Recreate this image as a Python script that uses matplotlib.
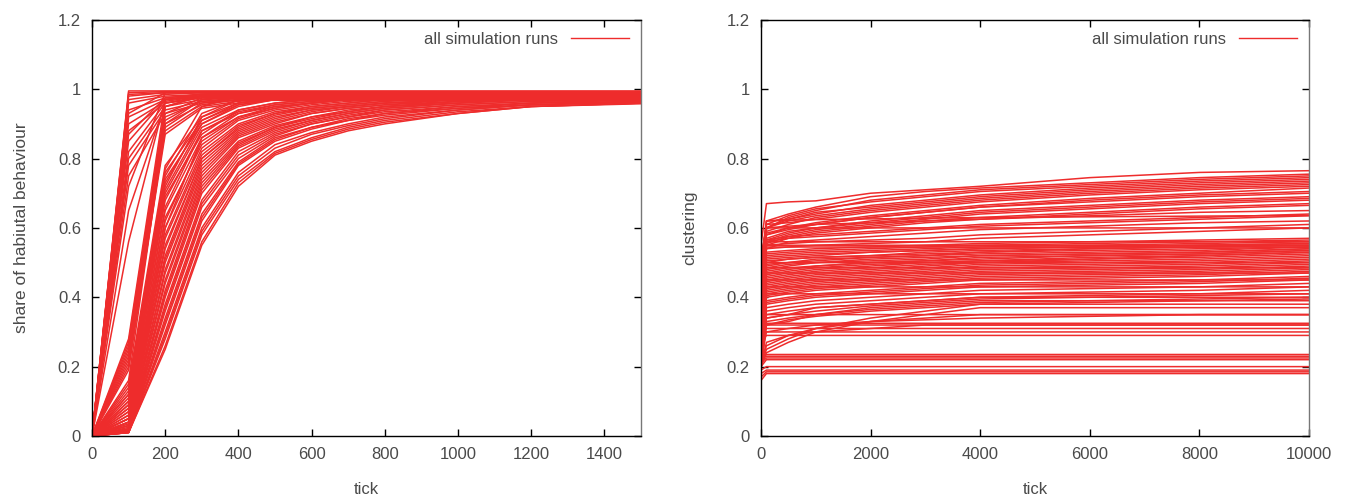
import matplotlib
matplotlib.use('Agg')
import matplotlib.pyplot as plt
from matplotlib.lines import Line2D

plt.rcParams['font.family'] = ['Liberation Sans', 'DejaVu Sans']

red = '#ee2c2c'
grey = '#4a4a4a'

# left panel: share of habitual behaviour, sampled ticks
ticks_left = [0, 100, 200, 300, 400, 500, 600, 700, 800, 1000, 1200, 1500]
runs_left = [
    # fast runs
    [0, 0.995, 0.995, 0.995, 0.995, 0.995, 0.995, 0.995, 0.995, 0.995, 0.995, 0.995],
    [0, 0.99, 0.993, 0.993, 0.993, 0.993, 0.993, 0.993, 0.993, 0.993, 0.993, 0.993],
    [0, 0.985, 0.99, 0.99, 0.99, 0.99, 0.99, 0.99, 0.99, 0.99, 0.99, 0.99],
    [0, 0.98, 0.99, 0.992, 0.992, 0.992, 0.992, 0.992, 0.992, 0.992, 0.992, 0.992],
    [0, 0.97, 0.985, 0.99, 0.99, 0.99, 0.99, 0.99, 0.99, 0.99, 0.99, 0.99],
    [0, 0.96, 0.98, 0.985, 0.987, 0.987, 0.987, 0.987, 0.987, 0.987, 0.987, 0.987],
    [0, 0.94, 0.975, 0.985, 0.985, 0.985, 0.985, 0.985, 0.985, 0.985, 0.985, 0.985],
    [0, 0.93, 0.99, 0.99, 0.99, 0.99, 0.99, 0.99, 0.99, 0.99, 0.99, 0.99],
    [0, 0.92, 0.97, 0.98, 0.982, 0.982, 0.982, 0.982, 0.982, 0.982, 0.982, 0.982],
    [0, 0.90, 0.965, 0.98, 0.98, 0.98, 0.98, 0.98, 0.98, 0.98, 0.98, 0.98],
    [0, 0.88, 0.96, 0.975, 0.978, 0.978, 0.978, 0.978, 0.978, 0.978, 0.978, 0.978],
    [0, 0.87, 0.975, 0.985, 0.988, 0.988, 0.988, 0.988, 0.988, 0.988, 0.988, 0.988],
    [0, 0.85, 0.97, 0.98, 0.985, 0.985, 0.985, 0.985, 0.985, 0.985, 0.985, 0.985],
    [0, 0.82, 0.96, 0.975, 0.975, 0.975, 0.975, 0.975, 0.975, 0.975, 0.975, 0.975],
    [0, 0.80, 0.95, 0.97, 0.975, 0.975, 0.975, 0.975, 0.975, 0.975, 0.975, 0.975],
    [0, 0.78, 0.94, 0.965, 0.97, 0.97, 0.97, 0.97, 0.97, 0.97, 0.97, 0.97],
    [0, 0.75, 0.93, 0.96, 0.968, 0.968, 0.968, 0.968, 0.968, 0.968, 0.968, 0.968],
    [0, 0.72, 0.99, 0.99, 0.99, 0.99, 0.99, 0.99, 0.99, 0.99, 0.99, 0.99],
    [0, 0.65, 0.96, 0.98, 0.985, 0.985, 0.985, 0.985, 0.985, 0.985, 0.985, 0.985],
    [0, 0.56, 0.97, 0.98, 0.983, 0.983, 0.983, 0.983, 0.983, 0.983, 0.983, 0.983],
    # medium runs
    [0, 0.28, 0.97, 0.985, 0.99, 0.99, 0.99, 0.99, 0.99, 0.99, 0.99, 0.99],
    [0, 0.27, 0.95, 0.98, 0.985, 0.985, 0.985, 0.985, 0.985, 0.985, 0.985, 0.985],
    [0, 0.26, 0.93, 0.975, 0.98, 0.98, 0.98, 0.98, 0.98, 0.98, 0.98, 0.98],
    [0, 0.25, 0.91, 0.97, 0.978, 0.978, 0.978, 0.978, 0.978, 0.978, 0.978, 0.978],
    [0, 0.24, 0.90, 0.955, 0.97, 0.975, 0.975, 0.975, 0.975, 0.975, 0.975, 0.975],
    [0, 0.23, 0.88, 0.95, 0.965, 0.972, 0.972, 0.972, 0.972, 0.972, 0.972, 0.972],
    [0, 0.22, 0.95, 0.98, 0.985, 0.985, 0.985, 0.985, 0.985, 0.985, 0.985, 0.985],
    [0, 0.21, 0.87, 0.945, 0.96, 0.97, 0.97, 0.97, 0.97, 0.97, 0.97, 0.97],
    [0, 0.20, 0.92, 0.965, 0.975, 0.98, 0.98, 0.98, 0.98, 0.98, 0.98, 0.98],
    [0, 0.19, 0.89, 0.96, 0.975, 0.98, 0.98, 0.98, 0.98, 0.98, 0.98, 0.98],
    # slow runs
    [0, 0.16, 0.90, 0.97, 0.985, 0.99, 0.99, 0.99, 0.99, 0.99, 0.99, 0.99],
    [0, 0.15, 0.78, 0.92, 0.96, 0.975, 0.98, 0.985, 0.985, 0.99, 0.99, 0.99],
    [0, 0.14, 0.76, 0.91, 0.955, 0.97, 0.98, 0.98, 0.985, 0.99, 0.99, 0.99],
    [0, 0.13, 0.75, 0.93, 0.97, 0.98, 0.985, 0.985, 0.99, 0.99, 0.99, 0.99],
    [0, 0.12, 0.74, 0.90, 0.95, 0.97, 0.975, 0.98, 0.985, 0.985, 0.99, 0.99],
    [0, 0.12, 0.72, 0.92, 0.97, 0.98, 0.985, 0.985, 0.985, 0.985, 0.985, 0.985],
    [0, 0.11, 0.73, 0.91, 0.96, 0.975, 0.98, 0.985, 0.985, 0.99, 0.99, 0.99],
    [0, 0.10, 0.77, 0.95, 0.98, 0.985, 0.985, 0.985, 0.985, 0.985, 0.985, 0.985],
    [0, 0.10, 0.70, 0.89, 0.94, 0.96, 0.97, 0.975, 0.98, 0.985, 0.985, 0.99],
    [0, 0.09, 0.71, 0.90, 0.955, 0.97, 0.975, 0.98, 0.985, 0.985, 0.99, 0.99],
    [0, 0.09, 0.68, 0.88, 0.935, 0.955, 0.965, 0.975, 0.98, 0.985, 0.985, 0.985],
    [0, 0.08, 0.69, 0.87, 0.94, 0.96, 0.97, 0.975, 0.98, 0.985, 0.985, 0.985],
    [0, 0.08, 0.65, 0.86, 0.93, 0.95, 0.96, 0.97, 0.975, 0.98, 0.985, 0.985],
    [0, 0.07, 0.66, 0.88, 0.93, 0.955, 0.965, 0.97, 0.975, 0.98, 0.985, 0.985],
    [0, 0.07, 0.62, 0.85, 0.92, 0.945, 0.96, 0.97, 0.975, 0.98, 0.985, 0.985],
    [0, 0.06, 0.63, 0.84, 0.915, 0.945, 0.96, 0.97, 0.975, 0.98, 0.985, 0.985],
    [0, 0.06, 0.60, 0.83, 0.91, 0.94, 0.955, 0.965, 0.97, 0.98, 0.98, 0.985],
    [0, 0.05, 0.60, 0.86, 0.92, 0.95, 0.96, 0.97, 0.975, 0.98, 0.985, 0.985],
    [0, 0.05, 0.58, 0.82, 0.90, 0.935, 0.95, 0.96, 0.97, 0.975, 0.98, 0.985],
    [0, 0.05, 0.57, 0.81, 0.895, 0.93, 0.95, 0.96, 0.97, 0.975, 0.98, 0.985],
    [0, 0.05, 0.55, 0.80, 0.89, 0.93, 0.945, 0.955, 0.965, 0.975, 0.98, 0.98],
    [0, 0.04, 0.54, 0.80, 0.885, 0.925, 0.945, 0.955, 0.965, 0.975, 0.98, 0.98],
    [0, 0.04, 0.52, 0.79, 0.88, 0.92, 0.94, 0.95, 0.96, 0.97, 0.98, 0.98],
    [0, 0.035, 0.51, 0.78, 0.875, 0.915, 0.94, 0.95, 0.96, 0.97, 0.975, 0.98],
    [0, 0.04, 0.50, 0.77, 0.87, 0.91, 0.935, 0.95, 0.96, 0.97, 0.975, 0.98],
    [0, 0.03, 0.48, 0.76, 0.865, 0.905, 0.93, 0.945, 0.955, 0.97, 0.975, 0.98],
    [0, 0.03, 0.47, 0.75, 0.86, 0.90, 0.93, 0.945, 0.955, 0.965, 0.975, 0.98],
    [0, 0.03, 0.45, 0.74, 0.85, 0.895, 0.92, 0.94, 0.95, 0.965, 0.97, 0.975],
    [0, 0.025, 0.44, 0.73, 0.845, 0.89, 0.92, 0.935, 0.95, 0.965, 0.97, 0.975],
    [0, 0.02, 0.42, 0.72, 0.84, 0.89, 0.915, 0.935, 0.95, 0.96, 0.97, 0.975],
    [0, 0.02, 0.41, 0.71, 0.835, 0.885, 0.91, 0.93, 0.945, 0.96, 0.97, 0.975],
    [0, 0.02, 0.40, 0.70, 0.83, 0.88, 0.91, 0.93, 0.945, 0.96, 0.97, 0.975],
    [0, 0.02, 0.38, 0.68, 0.82, 0.875, 0.905, 0.925, 0.94, 0.955, 0.965, 0.97],
    [0, 0.02, 0.37, 0.67, 0.81, 0.87, 0.90, 0.92, 0.94, 0.955, 0.965, 0.97],
    [0, 0.015, 0.36, 0.66, 0.80, 0.865, 0.90, 0.92, 0.935, 0.95, 0.96, 0.97],
    [0, 0.015, 0.34, 0.64, 0.79, 0.86, 0.89, 0.915, 0.93, 0.95, 0.96, 0.97],
    [0, 0.015, 0.33, 0.63, 0.785, 0.855, 0.89, 0.91, 0.93, 0.945, 0.96, 0.965],
    [0, 0.01, 0.32, 0.62, 0.78, 0.85, 0.885, 0.91, 0.925, 0.945, 0.955, 0.965],
    [0, 0.01, 0.30, 0.60, 0.76, 0.84, 0.875, 0.90, 0.92, 0.94, 0.955, 0.965],
    [0, 0.01, 0.29, 0.59, 0.75, 0.83, 0.87, 0.895, 0.915, 0.94, 0.955, 0.962],
    [0, 0.01, 0.28, 0.58, 0.74, 0.82, 0.86, 0.89, 0.91, 0.935, 0.95, 0.96],
    [0, 0.01, 0.26, 0.56, 0.73, 0.815, 0.855, 0.885, 0.905, 0.93, 0.95, 0.96],
    [0, 0.01, 0.25, 0.55, 0.72, 0.81, 0.85, 0.88, 0.90, 0.93, 0.95, 0.958],
]

# right panel: clustering, sampled ticks
ticks_right = [0, 100, 500, 1000, 2000, 3000, 4000, 6000, 8000, 10000]
runs_right = [
    # upper band
    [0.55, 0.67, 0.675, 0.678, 0.70, 0.71, 0.72, 0.745, 0.76, 0.765],
    [0.50, 0.62, 0.64, 0.66, 0.69, 0.705, 0.715, 0.73, 0.745, 0.755],
    [0.52, 0.60, 0.63, 0.65, 0.68, 0.695, 0.71, 0.725, 0.74, 0.75],
    [0.49, 0.61, 0.635, 0.655, 0.675, 0.69, 0.705, 0.72, 0.735, 0.745],
    [0.48, 0.62, 0.625, 0.64, 0.665, 0.68, 0.695, 0.715, 0.73, 0.74],
    [0.47, 0.60, 0.625, 0.645, 0.66, 0.675, 0.69, 0.71, 0.725, 0.735],
    [0.45, 0.60, 0.62, 0.635, 0.655, 0.67, 0.685, 0.705, 0.72, 0.73],
    [0.46, 0.59, 0.61, 0.63, 0.65, 0.665, 0.68, 0.70, 0.715, 0.725],
    [0.50, 0.61, 0.615, 0.625, 0.645, 0.66, 0.675, 0.695, 0.71, 0.72],
    [0.46, 0.58, 0.60, 0.615, 0.635, 0.65, 0.665, 0.685, 0.70, 0.715],
    [0.45, 0.585, 0.60, 0.61, 0.63, 0.645, 0.66, 0.675, 0.69, 0.70],
    [0.44, 0.58, 0.595, 0.61, 0.63, 0.645, 0.66, 0.68, 0.695, 0.705],
    [0.42, 0.57, 0.59, 0.60, 0.62, 0.635, 0.65, 0.665, 0.68, 0.69],
    [0.43, 0.565, 0.585, 0.60, 0.615, 0.63, 0.645, 0.66, 0.675, 0.685],
    [0.43, 0.56, 0.58, 0.595, 0.61, 0.625, 0.64, 0.655, 0.67, 0.68],
    [0.41, 0.555, 0.575, 0.59, 0.605, 0.62, 0.63, 0.645, 0.66, 0.67],
    [0.40, 0.55, 0.57, 0.585, 0.60, 0.615, 0.625, 0.64, 0.655, 0.665],
    [0.41, 0.60, 0.605, 0.61, 0.615, 0.62, 0.625, 0.635, 0.645, 0.65],
    [0.40, 0.565, 0.575, 0.58, 0.59, 0.60, 0.61, 0.62, 0.63, 0.64],
    [0.39, 0.56, 0.57, 0.575, 0.585, 0.595, 0.605, 0.615, 0.625, 0.635],
    [0.38, 0.54, 0.56, 0.565, 0.575, 0.585, 0.595, 0.605, 0.615, 0.62],
    [0.37, 0.55, 0.555, 0.56, 0.565, 0.57, 0.58, 0.59, 0.60, 0.61],
    [0.36, 0.54, 0.545, 0.55, 0.555, 0.56, 0.57, 0.58, 0.59, 0.60],
    [0.42, 0.62, 0.622, 0.624, 0.626, 0.628, 0.63, 0.632, 0.634, 0.636],
    [0.40, 0.60, 0.60, 0.60, 0.60, 0.60, 0.60, 0.60, 0.60, 0.60],
    # main band
    [0.35, 0.53, 0.535, 0.54, 0.545, 0.55, 0.555, 0.56, 0.565, 0.57],
    [0.35, 0.525, 0.53, 0.535, 0.54, 0.545, 0.55, 0.555, 0.56, 0.565],
    [0.34, 0.52, 0.525, 0.53, 0.535, 0.54, 0.545, 0.55, 0.555, 0.56],
    [0.34, 0.515, 0.52, 0.525, 0.53, 0.535, 0.54, 0.545, 0.55, 0.555],
    [0.33, 0.51, 0.515, 0.52, 0.53, 0.535, 0.54, 0.545, 0.55, 0.555],
    [0.33, 0.505, 0.51, 0.515, 0.52, 0.53, 0.535, 0.54, 0.545, 0.55],
    [0.32, 0.50, 0.51, 0.515, 0.52, 0.525, 0.53, 0.54, 0.545, 0.55],
    [0.31, 0.495, 0.50, 0.51, 0.515, 0.52, 0.53, 0.535, 0.54, 0.545],
    [0.30, 0.49, 0.50, 0.505, 0.515, 0.52, 0.525, 0.53, 0.535, 0.545],
    [0.30, 0.485, 0.495, 0.50, 0.51, 0.515, 0.52, 0.525, 0.53, 0.54],
    [0.30, 0.48, 0.49, 0.50, 0.505, 0.51, 0.52, 0.525, 0.53, 0.54],
    [0.29, 0.475, 0.485, 0.49, 0.50, 0.505, 0.515, 0.52, 0.525, 0.535],
    [0.29, 0.47, 0.48, 0.49, 0.50, 0.505, 0.51, 0.52, 0.525, 0.535],
    [0.28, 0.465, 0.475, 0.485, 0.495, 0.50, 0.505, 0.515, 0.52, 0.53],
    [0.28, 0.46, 0.47, 0.48, 0.49, 0.50, 0.505, 0.51, 0.52, 0.53],
    [0.27, 0.455, 0.465, 0.475, 0.485, 0.495, 0.50, 0.51, 0.515, 0.525],
    [0.27, 0.45, 0.46, 0.47, 0.48, 0.49, 0.50, 0.505, 0.51, 0.52],
    [0.26, 0.445, 0.455, 0.465, 0.475, 0.485, 0.495, 0.50, 0.505, 0.515],
    [0.26, 0.44, 0.45, 0.46, 0.47, 0.48, 0.49, 0.495, 0.50, 0.51],
    [0.25, 0.435, 0.445, 0.455, 0.465, 0.475, 0.485, 0.49, 0.495, 0.505],
    [0.25, 0.43, 0.44, 0.45, 0.46, 0.47, 0.48, 0.485, 0.49, 0.50],
    [0.25, 0.425, 0.435, 0.445, 0.455, 0.465, 0.475, 0.48, 0.485, 0.495],
    [0.25, 0.42, 0.43, 0.44, 0.45, 0.46, 0.47, 0.475, 0.48, 0.49],
    [0.24, 0.415, 0.425, 0.435, 0.445, 0.455, 0.465, 0.47, 0.475, 0.485],
    [0.24, 0.41, 0.42, 0.43, 0.44, 0.45, 0.46, 0.465, 0.47, 0.48],
    [0.24, 0.405, 0.415, 0.425, 0.435, 0.445, 0.455, 0.46, 0.465, 0.475],
    [0.24, 0.40, 0.41, 0.42, 0.43, 0.44, 0.45, 0.455, 0.46, 0.47],
    [0.23, 0.39, 0.40, 0.41, 0.42, 0.43, 0.44, 0.445, 0.45, 0.46],
    [0.23, 0.385, 0.395, 0.405, 0.415, 0.425, 0.435, 0.44, 0.445, 0.455],
    [0.22, 0.38, 0.39, 0.40, 0.41, 0.42, 0.43, 0.435, 0.44, 0.45],
    [0.22, 0.37, 0.38, 0.39, 0.40, 0.41, 0.42, 0.425, 0.43, 0.44],
    [0.21, 0.36, 0.37, 0.38, 0.39, 0.40, 0.41, 0.415, 0.42, 0.43],
    [0.20, 0.35, 0.36, 0.37, 0.38, 0.39, 0.40, 0.405, 0.41, 0.42],
    [0.20, 0.34, 0.35, 0.36, 0.375, 0.385, 0.395, 0.40, 0.405, 0.41],
    [0.19, 0.33, 0.34, 0.35, 0.365, 0.375, 0.385, 0.39, 0.395, 0.40],
    [0.19, 0.32, 0.335, 0.345, 0.36, 0.37, 0.38, 0.385, 0.39, 0.395],
    [0.30, 0.55, 0.55, 0.55, 0.55, 0.55, 0.55, 0.55, 0.55, 0.55],
    [0.30, 0.545, 0.545, 0.545, 0.545, 0.545, 0.545, 0.545, 0.545, 0.545],
    [0.30, 0.56, 0.56, 0.56, 0.56, 0.56, 0.56, 0.56, 0.56, 0.56],
    [0.30, 0.50, 0.50, 0.50, 0.50, 0.50, 0.50, 0.50, 0.50, 0.50],
    [0.29, 0.485, 0.485, 0.485, 0.485, 0.485, 0.485, 0.485, 0.485, 0.485],
    [0.28, 0.47, 0.47, 0.47, 0.47, 0.47, 0.47, 0.47, 0.47, 0.47],
    [0.26, 0.45, 0.45, 0.45, 0.45, 0.45, 0.45, 0.45, 0.45, 0.45],
    [0.25, 0.43, 0.43, 0.43, 0.43, 0.43, 0.43, 0.43, 0.43, 0.43],
    [0.24, 0.41, 0.41, 0.41, 0.41, 0.41, 0.41, 0.41, 0.41, 0.41],
    # rising from low
    [0.20, 0.24, 0.27, 0.30, 0.33, 0.35, 0.37, 0.37, 0.37, 0.37],
    [0.20, 0.25, 0.28, 0.31, 0.34, 0.36, 0.38, 0.38, 0.38, 0.38],
    [0.21, 0.26, 0.29, 0.31, 0.33, 0.34, 0.35, 0.35, 0.35, 0.35],
    [0.20, 0.27, 0.29, 0.30, 0.31, 0.32, 0.32, 0.32, 0.32, 0.32],
    [0.22, 0.30, 0.31, 0.32, 0.33, 0.335, 0.34, 0.345, 0.35, 0.35],
    [0.23, 0.32, 0.33, 0.35, 0.37, 0.38, 0.39, 0.39, 0.39, 0.39],
    [0.24, 0.34, 0.35, 0.37, 0.38, 0.39, 0.40, 0.40, 0.40, 0.40],
    # flat low
    [0.16, 0.18, 0.18, 0.18, 0.18, 0.18, 0.18, 0.18, 0.18, 0.18],
    [0.17, 0.185, 0.185, 0.185, 0.185, 0.185, 0.185, 0.185, 0.185, 0.185],
    [0.18, 0.19, 0.19, 0.19, 0.19, 0.19, 0.19, 0.19, 0.19, 0.19],
    [0.19, 0.20, 0.20, 0.20, 0.20, 0.20, 0.20, 0.20, 0.20, 0.20],
    [0.20, 0.22, 0.22, 0.22, 0.22, 0.22, 0.22, 0.22, 0.22, 0.22],
    [0.21, 0.225, 0.225, 0.225, 0.225, 0.225, 0.225, 0.225, 0.225, 0.225],
    [0.22, 0.23, 0.23, 0.23, 0.23, 0.23, 0.23, 0.23, 0.23, 0.23],
    [0.22, 0.235, 0.235, 0.235, 0.235, 0.235, 0.235, 0.235, 0.235, 0.235],
    [0.27, 0.29, 0.29, 0.29, 0.29, 0.29, 0.29, 0.29, 0.29, 0.29],
    [0.28, 0.30, 0.30, 0.30, 0.30, 0.30, 0.30, 0.30, 0.30, 0.30],
    [0.29, 0.31, 0.31, 0.31, 0.31, 0.31, 0.31, 0.31, 0.31, 0.31],
    [0.30, 0.32, 0.32, 0.32, 0.32, 0.32, 0.32, 0.32, 0.32, 0.32],
    [0.30, 0.325, 0.325, 0.325, 0.325, 0.325, 0.325, 0.325, 0.325, 0.325],
    [0.33, 0.35, 0.35, 0.35, 0.35, 0.35, 0.35, 0.35, 0.35, 0.35],
]

fig = plt.figure(figsize=(13.49, 4.96), dpi=100)
ax1 = fig.add_axes([0.0682, 0.121, 0.407, 0.839])
ax2 = fig.add_axes([0.5641, 0.121, 0.4063, 0.839])

def style(ax, xmax, xticks, ylabel):
    ax.set_xlim(0, xmax)
    ax.set_ylim(0, 1.2)
    ax.set_xticks(xticks)
    ax.set_yticks([0, 0.2, 0.4, 0.6, 0.8, 1.0, 1.2])
    ax.set_yticklabels(['0', '0.2', '0.4', '0.6', '0.8', '1', '1.2'])
    ax.tick_params(direction='in', length=5, width=1, top=True, right=True,
                   labelsize=12, labelcolor=grey, pad=8)
    ax.set_xlabel('tick', fontsize=12, color=grey, labelpad=14)
    ax.set_ylabel(ylabel, fontsize=12.5, color=grey, labelpad=21)
    for s in ax.spines.values():
        s.set_linewidth(1)
    ax.spines['right'].set_color('#777777')
    handle = Line2D([], [], color=red, lw=1)
    ax.legend([handle], ['all simulation runs'], loc='upper right', frameon=False,
              markerfirst=False, handlelength=3.5, fontsize=12,
              labelcolor=grey, borderaxespad=0.3)

for r in runs_left:
    ax1.plot(ticks_left, r, color=red, lw=1.1)
for r in runs_right:
    ax2.plot(ticks_right, r, color=red, lw=1.1)

style(ax1, 1500, [0, 200, 400, 600, 800, 1000, 1200, 1400], 'share of habiutal behaviour')
style(ax2, 10000, [0, 2000, 4000, 6000, 8000, 10000], 'clustering')

fig.savefig('out.png', dpi=100)
